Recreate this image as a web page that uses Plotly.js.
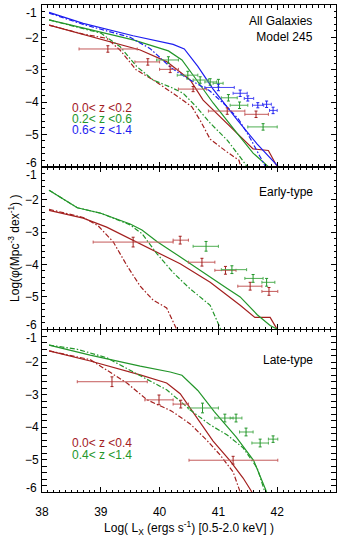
<!DOCTYPE html>
<html>
<head>
<meta charset="utf-8">
<script src="https://cdn.plot.ly/plotly-3.0.1.min.js"></script>
<style>
  html, body { margin: 0; padding: 0; background: #fff; }
  #chart { width: 350px; height: 560px; }
</style>
</head>
<body>
<div id="chart"></div>
<script>
/* X-ray luminosity functions, three stacked panels (all / early / late).
   Model curves are solid (full) and dash-dot (second model); crosses are data. */

// ---- panel 1: all galaxies ----
const allRedX   = [38.12, 38.7, 39.67, 40.12, 40.52, 40.74, 41.03, 41.32, 41.59, 41.85, 42.0];
const allRedY   = [-1.62, -1.9, -2.39, -2.75, -3.32, -3.94, -4.46, -4.97, -5.45, -5.5, -6.0];
const allRedDX  = [38.12, 38.7, 39.1, 39.33, 39.6, 39.9, 40.3, 40.55, 40.7, 40.86, 41.15, 41.35, 41.38];
const allRedDY  = [-1.62, -1.9, -2.03, -2.4, -3.0, -3.33, -3.82, -4.15, -4.6, -5.15, -5.55, -5.8, -6.0];
const allGrnX   = [38.12, 38.7, 39.55, 40.15, 40.38, 40.63, 40.91, 41.32, 41.59, 41.85];
const allGrnY   = [-1.46, -1.72, -2.08, -2.42, -2.7, -3.32, -4.03, -4.97, -5.58, -6.0];
const allGrnDX  = [38.12, 38.7, 39.0, 39.33, 39.61, 39.89, 40.2, 40.4, 40.63, 40.86, 41.15, 41.32, 41.49];
const allGrnDY  = [-1.46, -1.72, -1.87, -2.29, -2.9, -3.32, -3.55, -3.73, -4.16, -4.65, -5.18, -5.58, -6.0];
const allBluX   = [38.12, 38.7, 39.55, 39.96, 40.23, 40.42, 40.65, 40.91, 41.32, 41.66, 42.02];
const allBluY   = [-1.23, -1.57, -1.95, -2.12, -2.22, -2.36, -2.9, -3.6, -4.55, -5.3, -6.0];
const allBluDX  = [38.12, 38.7, 39.5, 39.84, 40.2, 40.5, 40.85, 41.15, 41.35, 41.55, 41.8];
const allBluDY  = [-1.25, -1.6, -2.0, -2.35, -2.95, -3.3, -3.65, -4.15, -4.55, -5.15, -6.0];

const allRedPtX  = [39.12, 39.8, 40.18, 40.57, 41.15, 41.64];
const allRedPtY  = [-2.36, -2.76, -2.99, -3.6, -4.28, -4.38];
const allRedPtLo = [38.63, 39.58, 40.0, 40.32, 40.83, 41.45];
const allRedPtHi = [39.62, 40.0, 40.32, 40.8, 41.45, 41.85];
const allRedPtE  = [0.1, 0.1, 0.1, 0.08, 0.1, 0.1];
const allGrnPtX  = [40.15, 40.48, 40.69, 40.86, 41.0, 41.17, 41.36, 41.76];
const allGrnPtY  = [-2.7, -3.17, -3.32, -3.38, -3.42, -3.87, -4.1, -4.77];
const allGrnPtLo = [39.95, 40.3, 40.57, 40.77, 40.91, 41.05, 41.2, 41.5];
const allGrnPtHi = [40.32, 40.65, 40.83, 40.97, 41.08, 41.32, 41.5, 42.0];
const allGrnPtE  = [0.1, 0.12, 0.1, 0.1, 0.12, 0.1, 0.1, 0.1];
const allBluPtX  = [41.0, 41.37, 41.5, 41.67, 41.82, 41.93];
const allBluPtY  = [-3.55, -3.73, -3.89, -4.1, -4.07, -4.26];
const allBluPtLo = [40.77, 41.25, 41.44, 41.58, 41.75, 41.87];
const allBluPtHi = [41.27, 41.49, 41.6, 41.77, 41.9, 42.0];
const allBluPtE  = [0.1, 0.1, 0.08, 0.08, 0.1, 0.1];

// ---- panel 2: early-type ----
const earRedX   = [38.12, 38.7, 39.1, 39.55, 39.96, 40.35, 40.86, 41.15, 41.37, 41.62, 41.88, 42.0];
const earRedY   = [-2.33, -2.57, -2.85, -3.25, -3.62, -3.98, -4.55, -4.95, -5.26, -5.63, -5.63, -6.0];
const earRedDX  = [38.12, 38.7, 38.95, 39.21, 39.45, 39.67, 39.89, 40.12, 40.29];
const earRedDY  = [-2.3, -2.55, -2.8, -3.3, -4.05, -4.67, -5.1, -5.34, -6.0];
const earGrnX   = [38.12, 38.6, 39.0, 39.5, 39.7, 39.96, 40.23, 40.86, 41.15, 41.37, 41.66, 41.88, 42.0];
const earGrnY   = [-1.71, -2.25, -2.42, -2.75, -2.94, -3.3, -3.62, -4.4, -4.74, -5.0, -5.55, -5.88, -6.0];
const earGrnDX  = [38.12, 38.6, 39.0, 39.5, 39.7, 39.96, 40.12, 40.23, 40.5, 40.86, 41.04];
const earGrnDY  = [-1.71, -2.25, -2.42, -2.78, -3.05, -3.68, -4.02, -4.25, -4.72, -5.26, -6.0];

const earRedPtX  = [39.55, 40.35, 40.72, 41.12, 41.54, 41.86];
const earRedPtY  = [-3.31, -3.25, -3.93, -4.18, -4.67, -4.83];
const earRedPtLo = [38.87, 40.23, 40.49, 40.94, 41.33, 41.74];
const earRedPtHi = [40.23, 40.49, 40.94, 41.3, 41.74, 42.01];
const earRedPtE  = [0.15, 0.12, 0.12, 0.12, 0.12, 0.12];
const earGrnPtX  = [40.79, 41.23, 41.59, 41.82];
const earGrnPtY  = [-3.44, -4.16, -4.43, -4.55];
const earGrnPtLo = [40.57, 41.05, 41.45, 41.74];
const earGrnPtHi = [41.0, 41.48, 41.76, 41.96];
const earGrnPtE  = [0.15, 0.12, 0.12, 0.12];

// ---- panel 3: late-type ----
const latRedX   = [38.12, 38.82, 39.67, 40.12, 40.35, 40.63, 40.91, 41.2, 41.42, 41.57];
const latRedY   = [-1.65, -1.96, -2.39, -2.64, -2.97, -3.71, -4.43, -5.04, -5.57, -6.0];
const latRedDX  = [38.12, 38.82, 39.1, 39.45, 39.79, 40.2, 40.52, 40.8, 41.03, 41.25, 41.37];
const latRedDY  = [-1.65, -1.92, -2.24, -2.65, -3.16, -3.5, -3.9, -4.4, -4.86, -5.38, -6.0];
const latGrnX   = [38.12, 38.82, 39.67, 40.18, 40.38, 40.65, 40.93, 41.3, 41.6, 41.82];
const latGrnY   = [-1.47, -1.78, -2.12, -2.3, -2.4, -2.87, -3.52, -4.3, -5.03, -6.0];
const latGrnDX  = [38.12, 38.6, 39.1, 39.67, 40.12, 40.35, 40.52, 40.86, 41.15, 41.42, 41.66, 41.79];
const latGrnDY  = [-1.47, -1.6, -1.86, -2.42, -2.85, -3.2, -3.47, -3.93, -4.24, -4.64, -5.26, -6.0];

const latRedPtX  = [39.19, 39.99, 40.36, 41.25];
const latRedPtY  = [-2.6, -3.16, -3.29, -5.02];
const latRedPtLo = [38.6, 39.75, 40.23, 40.5];
const latRedPtHi = [39.79, 40.23, 40.49, 42.01];
const latRedPtE  = [0.15, 0.15, 0.12, 0.12];
const latGrnPtX  = [40.73, 41.11, 41.3, 41.47, 41.71, 41.93];
const latGrnPtY  = [-3.41, -3.72, -3.72, -4.15, -4.49, -4.37];
const latGrnPtLo = [40.49, 40.94, 41.2, 41.36, 41.57, 41.85];
const latGrnPtHi = [41.0, 41.25, 41.4, 41.59, 41.85, 42.01];
const latGrnPtE  = [0.15, 0.12, 0.12, 0.12, 0.12, 0.1];

// ---- labels ----
const xTicks = [38, 39, 40, 41, 42];
const yTicks = [-5, -4, -3, -2];        // inner labels; -6 and -1 sit at panel edges
const yEdge  = [[-6, 4], [-1, -8]];     // [value, vertical nudge in px]
const allBins  = ["0.0< z <0.2", "0.2< z <0.6", "0.6< z <1.4"];
const lateBins = ["0.0< z <0.4", "0.4< z <1.4"];
const panelNames = ["All Galaxies<br>Model 245", "Early-type", "Late-type"];

const C = {
  red: "#A3201F", redBar: "#C45A5A", green: "#23962A", greenBar: "#4FAE52",
  blue: "#1E1EF0", blueBar: "#4A4AF5", ink: "#000",
  font: "Liberation Sans, Arial, Helvetica, sans-serif",
};
const DD = "5px,2px,1.5px,2px";

function curve(x, y, color, dashed, p) {
  return { x, y, xaxis: p.xa, yaxis: p.ya, mode: "lines", hoverinfo: "skip",
           line: { color, width: 1.2, dash: dashed ? DD : "solid" } };
}

function points(x, y, lo, hi, e, color, bar, p) {
  return {
    x, y, xaxis: p.xa, yaxis: p.ya, mode: "markers", hoverinfo: "skip",
    marker: { size: 1, color },
    error_x: { type: "data", symmetric: false, color: bar, thickness: 1, width: 1.5,
               array: hi.map((h, i) => h - x[i]), arrayminus: lo.map((l, i) => x[i] - l) },
    error_y: { type: "data", array: e, color, thickness: 1, width: 1.5 },
  };
}

const P1 = { xa: "x", ya: "y" }, P2 = { xa: "x2", ya: "y2" }, P3 = { xa: "x3", ya: "y3" };

const data = [
  curve(allRedX, allRedY, C.red, false, P1), curve(allRedDX, allRedDY, C.red, true, P1),
  curve(allGrnX, allGrnY, C.green, false, P1), curve(allGrnDX, allGrnDY, C.green, true, P1),
  curve(allBluX, allBluY, C.blue, false, P1), curve(allBluDX, allBluDY, C.blue, true, P1),
  points(allRedPtX, allRedPtY, allRedPtLo, allRedPtHi, allRedPtE, C.red, C.redBar, P1),
  points(allGrnPtX, allGrnPtY, allGrnPtLo, allGrnPtHi, allGrnPtE, C.green, C.greenBar, P1),
  points(allBluPtX, allBluPtY, allBluPtLo, allBluPtHi, allBluPtE, C.blue, C.blueBar, P1),

  curve(earRedX, earRedY, C.red, false, P2), curve(earRedDX, earRedDY, C.red, true, P2),
  curve(earGrnX, earGrnY, C.green, false, P2), curve(earGrnDX, earGrnDY, C.green, true, P2),
  points(earRedPtX, earRedPtY, earRedPtLo, earRedPtHi, earRedPtE, C.red, C.redBar, P2),
  points(earGrnPtX, earGrnPtY, earGrnPtLo, earGrnPtHi, earGrnPtE, C.green, C.greenBar, P2),

  curve(latRedX, latRedY, C.red, false, P3), curve(latRedDX, latRedDY, C.red, true, P3),
  curve(latGrnX, latGrnY, C.green, false, P3), curve(latGrnDX, latGrnDY, C.green, true, P3),
  points(latRedPtX, latRedPtY, latRedPtLo, latRedPtHi, latRedPtE, C.red, C.redBar, P3),
  points(latGrnPtX, latGrnPtY, latGrnPtLo, latGrnPtHi, latGrnPtE, C.green, C.greenBar, P3),

  // empty trace so the label-only overlay axis is laid out
  { x: [], y: [], xaxis: "x4", yaxis: "y3", mode: "lines", hoverinfo: "skip" },
];

const TF = { family: C.font, size: 12, color: C.ink };

function xax(anchor) {
  return {
    anchor, range: [38, 43], tickmode: "array", tickvals: xTicks, showticklabels: false,
    ticks: "inside", ticklen: 5, tickcolor: C.ink, mirror: "allticks",
    showline: true, linecolor: C.ink, linewidth: 1, showgrid: false, zeroline: false,
    minor: { tickmode: "linear", tick0: 38, dtick: 0.1, ticks: "inside", ticklen: 2.5, tickcolor: C.ink },
  };
}
function yax(anchor, domain) {
  return {
    anchor, domain, range: [-6, -1], tickmode: "array", tickvals: yTicks,
    ticks: "inside", ticklen: 5, tickcolor: C.ink, mirror: "allticks",
    showline: true, linecolor: C.ink, linewidth: 1, showgrid: false, zeroline: false,
    minor: { tickmode: "linear", tick0: -6, dtick: 0.2, ticks: "inside", ticklen: 2.5, tickcolor: C.ink },
    tickfont: TF,
  };
}

function note(text, x, y, ya, color, anchor) {
  return { text, x, y, xref: "x", yref: ya, showarrow: false, xanchor: anchor, yanchor: "middle",
           align: anchor, font: { family: C.font, size: 12, color } };
}

const annotations = [
  note(panelNames[0], 42.64, -1.75, "y", C.ink, "right"),
  note(panelNames[1], 42.64, -1.77, "y2", C.ink, "right"),
  note(panelNames[2], 42.64, -1.93, "y3", C.ink, "right"),
  note(allBins[0], 38.47, -4.19, "y", C.red, "left"),
  note(allBins[1], 38.47, -4.52, "y", C.green, "left"),
  note(allBins[2], 38.47, -4.87, "y", C.blue, "left"),
  note(lateBins[0], 38.47, -4.49, "y3", C.red, "left"),
  note(lateBins[1], 38.47, -4.86, "y3", C.green, "left"),
];
// edge tick labels, nudged inward so neighbouring panels do not collide
["y", "y2", "y3"].forEach(ya => yEdge.forEach(([v, dy]) => annotations.push({
  text: String(v), xref: "paper", x: 0, xanchor: "right", xshift: -3, yref: ya, y: v,
  yanchor: "middle", yshift: dy, showarrow: false, font: TF,
})));

const layout = {
  width: 350, height: 560, paper_bgcolor: "#fff", plot_bgcolor: "#fff",
  font: TF, showlegend: false,
  margin: { l: 42, r: 14, t: 5, b: 68 },
  xaxis: xax("y"),
  xaxis2: xax("y2"),
  xaxis3: xax("y3"),
  // labels + title only, pushed down by an invisible outside tick
  xaxis4: {
    overlaying: "x3", anchor: "y3", side: "bottom", range: [38, 43],
    tickmode: "array", tickvals: xTicks, ticks: "outside", ticklen: 9,
    tickcolor: "rgba(0,0,0,0)", showline: false, showgrid: false, zeroline: false,
    tickfont: TF,
    title: { text: "Log( L<sub>X</sub> (ergs s<sup>-1</sup>) [0.5-2.0 keV] )", font: TF, standoff: 3 },
  },
  yaxis: yax("x", [0.668, 1]),
  yaxis2: Object.assign(yax("x2", [0.334, 0.667]), {
    title: { text: "Log(\u03c6(Mpc<sup>-3</sup> dex<sup>-1</sup>) )", font: TF, standoff: 2 },
  }),
  yaxis3: yax("x3", [0, 0.333]),
  annotations,
};

Plotly.newPlot("chart", data, layout, { displayModeBar: false, staticPlot: true });
</script>
</body>
</html>
